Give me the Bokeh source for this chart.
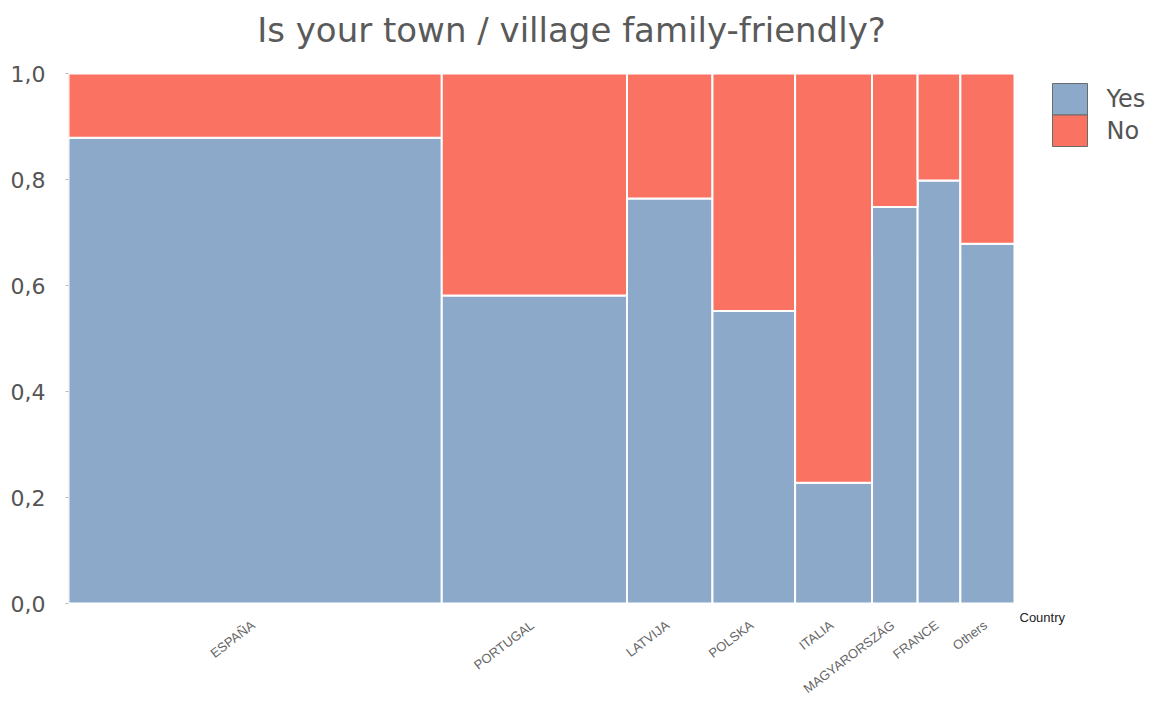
import numpy as np
from bokeh.plotting import figure
from bokeh.models import (ColumnDataSource, Range1d, FixedTicker, BoxAnnotation, Label)
from bokeh.core.properties import value
from bokeh.embed import file_html
from bokeh.resources import INLINE

# ---- data ----
countries = ["ESPAÑA", "PORTUGAL", "LATVIJA", "POLSKA", "ITALIA", "MAGYARORSZÁG", "FRANCE", "Others"]
responses = [131, 65, 30, 29, 27, 16, 15, 19]          # column widths (number of answers)
yes_share = [0.879, 0.581, 0.764, 0.552, 0.228, 0.748, 0.798, 0.679]
series = ["Yes", "No"]
y_ticks = [0.0, 0.2, 0.4, 0.6, 0.8, 1.0]
title_text = "Is your town / village family-friendly?"
x_title = "Country"

YES_COLOR = "#8DA9C9"
NO_COLOR = "#FA7362"
series_colors = [YES_COLOR, NO_COLOR]

right_edges = np.cumsum(responses)
left_edges = right_edges - np.array(responses)
centers = (left_edges + right_edges) / 2
total = float(right_edges[-1])

src = ColumnDataSource(dict(
    left=left_edges, right=right_edges,
    yes=yes_share, one=[1.0] * len(countries), zero=[0.0] * len(countries),
    country=countries, center=centers,
))

# layout: one frame holding the whole chart (title, bars, labels, legend)
BARS_W, BARS_H = 946, 530         # pixel size of the mosaic itself
FRAME_W, FRAME_H = 1082, 697
TOP_PAD, BOTTOM_PAD = 73, 94      # px above 1.0 / below 0.0 inside the frame
p = figure(frame_width=FRAME_W, frame_height=FRAME_H, output_backend="svg", toolbar_location=None,
           x_range=Range1d(0, total * FRAME_W / BARS_W),
           y_range=Range1d(-BOTTOM_PAD / BARS_H, 1 + TOP_PAD / BARS_H),
           min_border_left=68, min_border_top=0, min_border_bottom=0, min_border_right=0)

p.quad(left="left", right="right", bottom="zero", top="yes", source=src,
       fill_color=YES_COLOR, line_color="white", line_width=2)
p.quad(left="left", right="right", bottom="yes", top="one", source=src,
       fill_color=NO_COLOR, line_color="white", line_width=2)

# country labels under each column, rotated, ending at the column centre
p.text(x="center", y="zero", text="country", source=src, angle=0.65,
       text_align="right", text_baseline="middle", x_offset=-2, y_offset=20,
       text_font=value("Liberation Sans"), text_font_size="13px", text_color="#666666")

# legend: two touching swatches with a dark outline, labels to the right
SW_LEFT, SW_RIGHT, SW_TOP, SW_H = 984, 1019, 614, 31.5   # screen px inside the frame
for i, (name, col) in enumerate(zip(series, series_colors)):
    top = SW_TOP - i * SW_H
    p.add_layout(BoxAnnotation(left=SW_LEFT, right=SW_RIGHT, top=top, bottom=top - SW_H,
                               left_units="screen", right_units="screen",
                               top_units="screen", bottom_units="screen",
                               fill_color=col, fill_alpha=1.0,
                               line_color="#6a6a6a", line_width=1, line_alpha=1.0))
    p.add_layout(Label(x=SW_RIGHT + 19, y=top - SW_H / 2, x_units="screen", y_units="screen",
                       text=name, text_baseline="middle", text_align="left",
                       text_font="DejaVu Sans", text_font_size="24px", text_color="#555555"))

# title and axis caption
p.add_layout(Label(x=503, y=668, x_units="screen", y_units="screen", text=title_text,
                   text_align="center", text_baseline="alphabetic",
                   text_font="DejaVu Sans", text_font_size="34px", text_color="#5a5a5a"))
p.add_layout(Label(x=total, y=0, text=x_title, x_offset=5, y_offset=-14,
                   text_font="Liberation Sans", text_font_size="13px",
                   text_color="#222222", text_baseline="middle"))

p.xgrid.visible = False
p.ygrid.visible = False
p.outline_line_color = None
p.background_fill_color = "white"
p.xaxis.visible = False

# y axis with decimal comma
p.yaxis.ticker = FixedTicker(ticks=y_ticks)
p.yaxis.major_label_overrides = {t: f"{t:.1f}".replace(".", ",") for t in y_ticks}
p.yaxis.major_label_text_font = "DejaVu Sans"
p.yaxis.major_label_text_font_size = "22px"
p.yaxis.major_label_text_color = "#555555"
p.yaxis.axis_line_color = None
p.yaxis.major_tick_out = 3
p.yaxis.major_tick_in = 0
p.yaxis.major_tick_line_color = "#bbbbbb"
p.yaxis.minor_tick_line_color = None
p.yaxis.major_label_standoff = 20

open("out.html", "w").write(file_html(p, INLINE))
